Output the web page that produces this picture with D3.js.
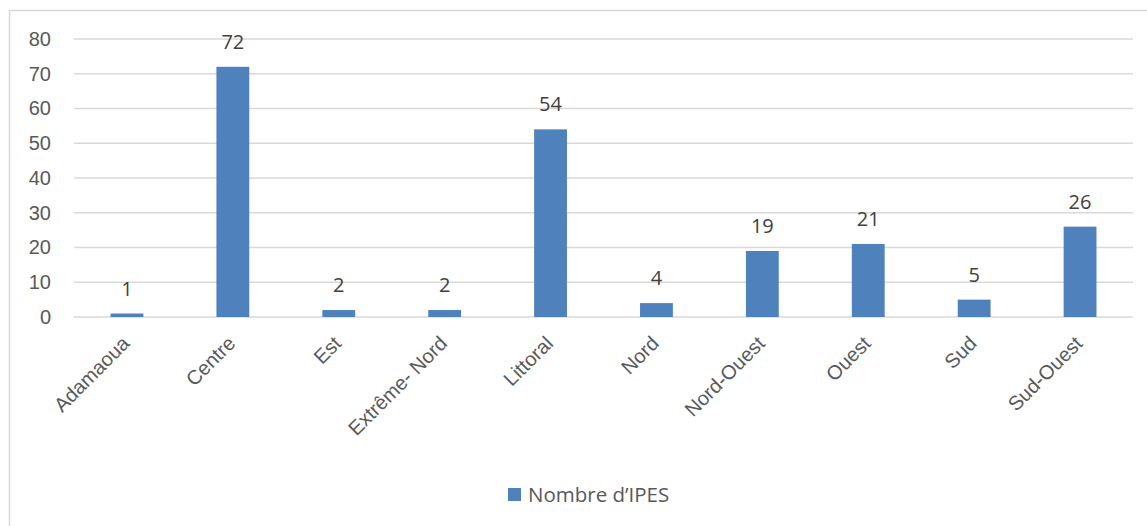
<!DOCTYPE html>
<html>
<head>
<meta charset="utf-8">
<script src="https://cdn.jsdelivr.net/npm/d3@7"></script>
<style>
  html, body { margin: 0; padding: 0; background: #fff; }
  svg { display: block; font-family: "Open Sans", "Noto Sans", sans-serif; }
</style>
</head>
<body>
<svg id="chart" width="1147" height="526"></svg>
<script>
// Regions and number of IPES per region
const regions = ["Adamaoua", "Centre", "Est", "Extrême- Nord", "Littoral", "Nord", "Nord-Ouest", "Ouest", "Sud", "Sud-Ouest"];
const counts = [1, 72, 2, 2, 54, 4, 19, 21, 5, 26];
const yTicks = [0, 10, 20, 30, 40, 50, 60, 70, 80];
const seriesName = "Nombre d’IPES";

const svg = d3.select("#chart");
const margin = { left: 74, right: 1133, top: 39, bottom: 317 };
const fontSize = 20;

// Outer chart frame
svg.append("rect")
  .attr("x", 9.5).attr("y", 10.5)
  .attr("width", 1160).attr("height", 540)
  .attr("fill", "none").attr("stroke", "#d9d9d9").attr("stroke-width", 1.5);

const x = d3.scaleBand().domain(regions).range([margin.left, margin.right]).paddingInner(0.69).paddingOuter(0.345);
const y = d3.scaleLinear().domain([0, 80]).range([margin.bottom, margin.top]);

// Horizontal gridlines
svg.append("g").selectAll("line").data(yTicks).join("line")
  .attr("x1", margin.left).attr("x2", margin.right)
  .attr("y1", d => y(d)).attr("y2", d => y(d))
  .attr("stroke", "#d9d9d9").attr("stroke-width", 1.5);

// Y axis labels
const yAxis = d3.axisLeft(y).tickValues(yTicks).tickSize(0).tickPadding(0);
const gy = svg.append("g").attr("transform", "translate(51,0)").call(yAxis);
gy.select(".domain").remove();
gy.selectAll("text").attr("font-size", fontSize).attr("fill", "#595959").attr("font-family", "inherit");

// Bars
svg.append("g").selectAll("rect").data(regions).join("rect")
  .attr("x", d => x(d))
  .attr("width", x.bandwidth())
  .attr("y", (d, i) => y(counts[i]))
  .attr("height", (d, i) => y(0) - y(counts[i]))
  .attr("fill", "#4f81bd");

// Value labels
svg.append("g").selectAll("text").data(regions).join("text")
  .attr("x", d => x(d) + x.bandwidth() / 2)
  .attr("y", (d, i) => y(counts[i]) - 18)
  .attr("text-anchor", "middle")
  .attr("font-size", fontSize)
  .attr("fill", "#404040")
  .text((d, i) => counts[i]);

// Category labels, rotated
const xAxis = d3.axisBottom(x).tickSize(0).tickPadding(0);
const gx = svg.append("g").attr("transform", `translate(0,${margin.bottom})`).call(xAxis);
gx.select(".domain").remove();
gx.selectAll("text")
  .attr("font-size", fontSize).attr("fill", "#595959").attr("font-family", "inherit")
  .attr("text-anchor", "end")
  .attr("dy", null).attr("y", null)
  .attr("transform", "translate(0,24) rotate(-45)")
  .attr("dominant-baseline", "middle");

// Legend
const legend = svg.append("g").attr("transform", "translate(508,495)");
legend.append("rect").attr("x", 0).attr("y", -7).attr("width", 13).attr("height", 13).attr("fill", "#4f81bd");
legend.append("text").attr("x", 20).attr("y", 0).attr("dy", "0.35em")
  .attr("font-size", 20.5).attr("fill", "#595959").text(seriesName);
</script>
</body>
</html>
